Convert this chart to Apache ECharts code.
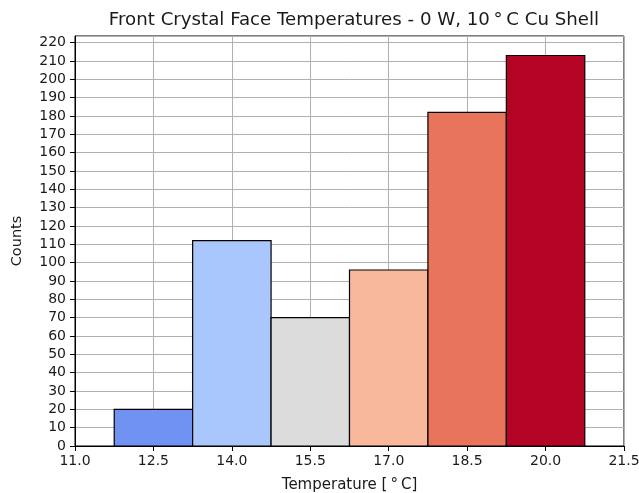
<!DOCTYPE html>
<html><head><meta charset="utf-8">
<script src="https://cdn.jsdelivr.net/npm/echarts@6/dist/echarts.min.js"></script>
<style>html,body{margin:0;padding:0;background:#fff}#c{width:639px;height:493px}</style>
</head><body><div id="c"></div>
<script>
const binEdges = [11.75, 13.25, 14.75, 16.25, 17.75, 19.25, 20.75];
const counts = [20, 112, 70, 96, 182, 213];
const barColors = ['#6F92F3', '#AAC7FD', '#DCDCDC', '#F7B89C', '#E7745B', '#B40426'];
const xTickLabels = ['11.0','12.5','14.0','15.5','17.0','18.5','20.0','21.5'];
const X0 = 11.0;

const data = counts.map((c, i) => [binEdges[i] - X0, binEdges[i+1] - X0, c, i]);
const chart = echarts.init(document.getElementById('c'), null, {renderer: 'canvas'});
const font = 'DejaVu Sans';
chart.setOption({
  animation: false,
  textStyle: {fontFamily: font},
  title: {text: 'Front Crystal Face Temperatures - 0 W, 10\u2009\u00b0\u2009C Cu Shell', left: 349, top: 6, textAlign: 'center',
    textStyle: {fontFamily: font, fontSize: 18.2, fontWeight: 'normal', color: '#1a1a1a'}},
  grid: {left: 75, right: 15, top: 36, bottom: 47, show: true, borderColor: '#000', borderWidth: 1, backgroundColor: 'transparent',
    containLabel: false, outerBoundsMode: 'none'},
  xAxis: {type: 'value', min: 0, max: 10.5, interval: 1.5,
    name: 'Temperature [\u2009\u00b0\u2009C]', nameLocation: 'middle', nameGap: 32,
    nameTextStyle: {fontFamily: font, fontSize: 15, color: '#1a1a1a'},
    axisLine: {show: true, onZero: false, lineStyle: {color: '#000'}},
    axisTick: {show: true, length: 5, lineStyle: {color: '#000'}},
    axisLabel: {fontFamily: font, fontSize: 14, color: '#1a1a1a', margin: 8, hideOverlap: false,
      formatter: v => { const i = Math.round(v / 1.5); return Math.abs(i*1.5 - v) < 1e-6 ? xTickLabels[i] : ''; }},
    splitLine: {show: true, lineStyle: {color: '#b0b0b0', width: 1}}},
  yAxis: {type: 'value', min: 0, max: 223.65, interval: 10,
    name: 'Counts', nameLocation: 'middle', nameGap: 50,
    nameTextStyle: {fontFamily: font, fontSize: 14.5, color: '#1a1a1a'},
    axisLine: {show: true, lineStyle: {color: '#000'}},
    axisTick: {show: true, length: 5, lineStyle: {color: '#000'}},
    axisLabel: {fontFamily: font, fontSize: 14, color: '#1a1a1a', margin: 9, showMaxLabel: false, hideOverlap: false,
      formatter: v => (Math.abs(v % 10) < 1e-6 ? String(v) : '')},
    splitLine: {show: true, lineStyle: {color: '#b0b0b0', width: 1}}},
  series: [{
    type: 'custom',
    data: data,
    encode: {x: [0, 1], y: 2},
    renderItem: (params, api) => {
      const p0 = api.coord([api.value(0), 0]);
      const p1 = api.coord([api.value(1), api.value(2)]);
      return {type: 'rect', shape: {x: p0[0], y: p1[1], width: p1[0] - p0[0], height: p0[1] - p1[1]},
        style: {fill: barColors[api.value(3)], stroke: '#000', lineWidth: 1.2}};
    }
  }]
});
</script></body></html>
